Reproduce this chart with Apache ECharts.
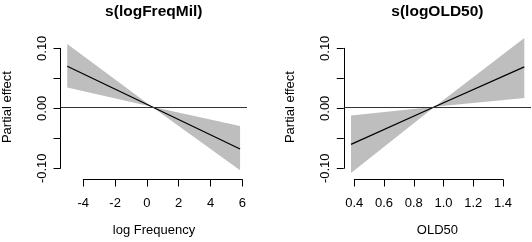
<!DOCTYPE html>
<html>
<head>
<meta charset="utf-8">
<script src="https://cdn.jsdelivr.net/npm/echarts@6/dist/echarts.min.js"></script>
<style>
  html, body { margin: 0; padding: 0; background: #fff; }
  #chart { width: 532px; height: 242px; }
</style>
</head>
<body>
<div id="chart"></div>
<script>
// s(logFreqMil) panel
var freqX = [-5.04, 0.3, 5.86];
var freqFit = [0.069, 0.0, -0.072];
var freqUpper = [0.107, 0.0, -0.033];
var freqLower = [0.033, 0.0, -0.108];
var freqTicks = ['-4', '-2', '0', '2', '4', '6'];

// s(logOLD50) panel
var oldX = [0.378, 0.94, 1.543];
var oldFit = [-0.064, 0.0, 0.068];
var oldUpper = [-0.015, 0.0, 0.117];
var oldLower = [-0.113, 0.0, 0.015];
var oldTicks = ['0.4', '0.6', '0.8', '1.0', '1.2', '1.4'];

var yTicks = ['-0.10', '', '0.00', '', '0.10'];

var FONT = '"Liberation Sans", Arial, sans-serif';

function pairs(xs, ys) {
  var out = [];
  for (var i = 0; i < xs.length; i++) out.push([xs[i], ys[i]]);
  return out;
}

// band + zero line + fit for one panel
function panelSeries(idx, xs, fit, upper, lower) {
  return [
    {
      type: 'custom', xAxisIndex: idx, yAxisIndex: idx,
      data: pairs(xs, upper), silent: true, clip: true,
      renderItem: function (params, api) {
        if (params.dataIndex !== 0) return null;
        var pts = [];
        for (var i = 0; i < xs.length; i++) pts.push(api.coord([xs[i], upper[i]]));
        for (var j = xs.length - 1; j >= 0; j--) pts.push(api.coord([xs[j], lower[j]]));
        return { type: 'polygon', shape: { points: pts }, style: { fill: '#bebebe' } };
      }
    },
    {
      type: 'line', xAxisIndex: idx, yAxisIndex: idx,
      data: pairs(xs, fit), symbol: 'none', silent: true,
      lineStyle: { color: '#000', width: 1.3 },
      markLine: {
        silent: true, symbol: 'none', label: { show: false },
        lineStyle: { color: '#333', width: 1, type: 'solid' },
        data: [{ yAxis: 0 }]
      }
    }
  ];
}

function plotXAxis(grid, min, max, name) {
  return {
    gridIndex: grid, type: 'value', min: min, max: max,
    axisLine: { show: false }, axisTick: { show: false },
    axisLabel: { show: false }, splitLine: { show: false },
    name: name, nameLocation: 'middle', nameGap: 48,
    nameTextStyle: { fontSize: 13, color: '#000', fontFamily: FONT }
  };
}
function plotYAxis(grid) {
  return {
    gridIndex: grid, type: 'value', min: -0.118, max: 0.117,
    axisLine: { show: false }, axisTick: { show: false },
    axisLabel: { show: false }, splitLine: { show: false },
    name: 'Partial effect', nameLocation: 'middle', nameGap: 47, nameRotate: 90,
    nameTextStyle: { fontSize: 13, color: '#000', fontFamily: FONT }
  };
}
function tickXAxis(grid, min, max, interval, labels) {
  return {
    gridIndex: grid, type: 'value', min: min, max: max, interval: interval,
    axisLine: { lineStyle: { color: '#000', width: 1 } },
    axisTick: { length: 7, lineStyle: { color: '#000' } },
    axisLabel: {
      fontSize: 13, color: '#000', fontFamily: FONT, margin: 17,
      formatter: function (v, i) { return labels[i]; }
    },
    splitLine: { show: false }
  };
}
function tickYAxis(grid) {
  return {
    gridIndex: grid, type: 'value', min: -0.1, max: 0.1, interval: 0.05,
    axisLine: { lineStyle: { color: '#000', width: 1 } },
    axisTick: { length: 7, lineStyle: { color: '#000' } },
    axisLabel: {
      fontSize: 13, color: '#000', fontFamily: FONT, margin: 12, rotate: 90,
      formatter: function (v, i) { return yTicks[i]; }
    },
    splitLine: { show: false }
  };
}
function hidden(grid) {
  return { gridIndex: grid, type: 'value', show: false, min: 0, max: 1 };
}

var chart = echarts.init(document.getElementById('chart'));
chart.setOption({
  animation: false,
  backgroundColor: '#fff',
  grid: [
    { left: 60.5, top: 38.1, width: 186.5, height: 141 },
    { left: 343.8, top: 38.1, width: 187.2, height: 141 },
    { left: 83.3, top: 100, width: 159, height: 79.5 },
    { left: 60.5, top: 48.3, width: 100, height: 120 },
    { left: 354.3, top: 100, width: 148.7, height: 79.5 },
    { left: 343.8, top: 48.3, width: 100, height: 120 }
  ],
  xAxis: [
    plotXAxis(0, -5.434, 6.296, 'log Frequency'),
    plotXAxis(1, 0.3294, 1.588, 'OLD50'),
    tickXAxis(2, -4, 6, 2, freqTicks),
    hidden(3),
    tickXAxis(4, 0.4, 1.4, 0.2, oldTicks),
    hidden(5)
  ],
  yAxis: [
    plotYAxis(0),
    plotYAxis(1),
    hidden(2),
    tickYAxis(3),
    hidden(4),
    tickYAxis(5)
  ],
  graphic: [
    { type: 'text', x: 153.75, y: 11.5, silent: true,
      style: { text: 's(logFreqMil)', align: 'center', verticalAlign: 'middle',
               font: 'bold 15.5px ' + FONT, fill: '#000' } },
    { type: 'text', x: 437.4, y: 11.5, silent: true,
      style: { text: 's(logOLD50)', align: 'center', verticalAlign: 'middle',
               font: 'bold 15.5px ' + FONT, fill: '#000' } }
  ],
  series: panelSeries(0, freqX, freqFit, freqUpper, freqLower)
    .concat(panelSeries(1, oldX, oldFit, oldUpper, oldLower))
});
</script>
</body>
</html>
